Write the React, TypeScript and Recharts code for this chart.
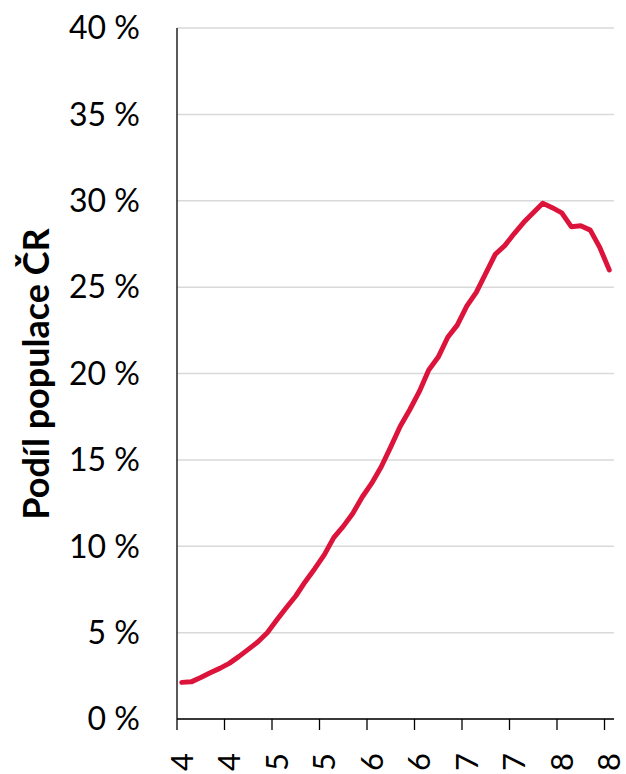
import { LineChart, Line, XAxis, YAxis, CartesianGrid } from "recharts";

// věk 40–85
const AGES = [
  40, 41, 42, 43, 44, 45, 46, 47, 48, 49,
  50, 51, 52, 53, 54, 55, 56, 57, 58, 59,
  60, 61, 62, 63, 64, 65, 66, 67, 68, 69,
  70, 71, 72, 73, 74, 75, 76, 77, 78, 79,
  80, 81, 82, 83, 84, 85,
];

const SHARE = [
  2.12, 2.15, 2.4, 2.68, 2.93, 3.22, 3.61, 4.03, 4.46, 4.99,
  5.73, 6.44, 7.12, 7.95, 8.7, 9.5, 10.5, 11.15, 11.9, 12.85,
  13.65, 14.6, 15.75, 16.95, 17.9, 18.95, 20.2, 20.95, 22.1, 22.8,
  23.9, 24.7, 25.8, 26.9, 27.4, 28.1, 28.75, 29.3, 29.85, 29.6,
  29.3, 28.5, 28.55, 28.3, 27.3, 26.0,
];

const X_TICKS = [40, 45, 50, 55, 60, 65, 70, 75, 80, 85];
const X_TICK_LABELS = ["4", "4", "5", "5", "6", "6", "7", "7", "8", "8"];
const Y_TICKS = [0, 5, 10, 15, 20, 25, 30, 35, 40];

const data = AGES.map((age, i) => ({ age, share: SHARE[i] }));

const W = 626;
const H = 774;
const LEFT = 177;
const RIGHT = 12;
const BAND = (W - LEFT - RIGHT) / AGES.length;
const FONT = "Lato, 'Open Sans', sans-serif";

const XTick = ({ x, y, index }: any) => {
  const lx = x - BAND / 2;
  const tx = x - 1;
  const ty = y + 52;
  return (
    <g>
      <line x1={lx} y1={y} x2={lx} y2={y + 11} stroke="#000" strokeWidth={1.3} />
      <text
        x={tx}
        y={ty}
        transform={`rotate(-90, ${tx}, ${ty})`}
        textAnchor="start"
        dominantBaseline="central"
        fontSize={31}
        fontFamily={FONT}
        fill="#000"
      >
        {X_TICK_LABELS[index]}
      </text>
    </g>
  );
};

const YLabel = () => (
  <text
    x={35}
    y={374}
    transform="rotate(-90, 35, 374)"
    textAnchor="middle"
    dominantBaseline="central"
    fontSize={36}
    fontWeight="bold"
    fontFamily={FONT}
    fill="#000"
  >
    Podíl populace ČR
  </text>
);

export default function App() {
  return (
    <div style={{ position: "absolute", left: 0, top: 0, background: "#fff" }}>
      <LineChart width={W} height={H} data={data} margin={{ top: 28, right: RIGHT, bottom: 0, left: 0 }}>
        <CartesianGrid horizontal vertical={false} stroke="#D9D9D9" strokeWidth={1.5} />
        <XAxis
          dataKey="age"
          type="number"
          domain={[39.5, 85.5]}
          ticks={X_TICKS}
          interval={0}
          height={55}
          axisLine={{ stroke: "#000", strokeWidth: 1.3 }}
          tickLine={false}
          tickSize={0}
          tickMargin={0}
          tick={<XTick />}
        />
        <YAxis
          type="number"
          domain={[0, 40]}
          ticks={Y_TICKS}
          interval={0}
          width={LEFT}
          axisLine={{ stroke: "#000", strokeWidth: 1.3 }}
          tickLine={false}
          tickSize={0}
          tickMargin={37}
          tickFormatter={(v: number) => `${v} %`}
          tick={{ fontSize: 32, fontFamily: FONT, fill: "#000" }}
          label={<YLabel />}
        />
        <Line
          type="linear"
          dataKey="share"
          stroke="#DC143C"
          strokeWidth={5}
          strokeLinejoin="round"
          strokeLinecap="round"
          dot={false}
          activeDot={false}
          isAnimationActive={false}
        />
      </LineChart>
    </div>
  );
}
